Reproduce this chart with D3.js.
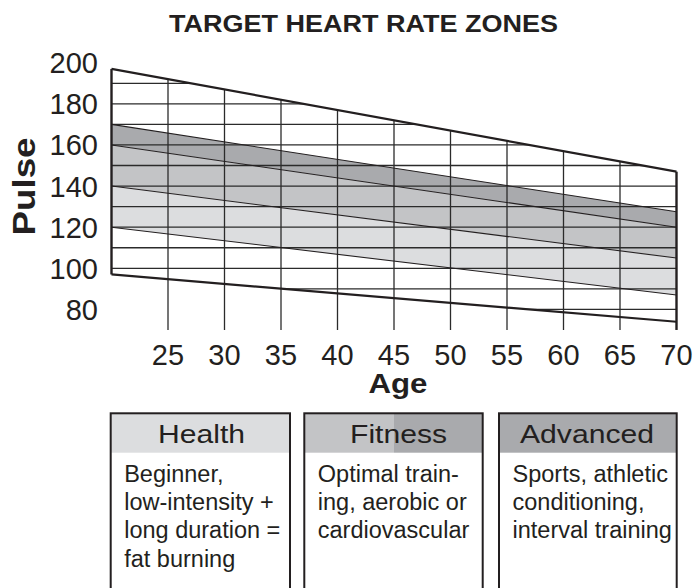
<!DOCTYPE html>
<html>
<head>
<meta charset="utf-8">
<script src="https://cdn.jsdelivr.net/npm/d3@7"></script>
<style>
  html, body { margin: 0; padding: 0; background: #fff; }
  svg { display: block; }
  text { font-family: "Liberation Sans", Arial, Helvetica, sans-serif; fill: #231f20; }
</style>
</head>
<body>
<svg id="chart" width="694" height="588"></svg>
<script>
// ---- data ----
const ages = [20, 70];
const maxPulse      = [197, 147];   // upper boundary of the chart
const advancedTop   = [170, 127.5]; // top of dark band
const fitnessTop    = [160, 120];   // dark / medium boundary
const healthTop     = [140, 105];   // medium / light boundary
const healthBottom  = [120, 87];    // bottom of light band
const minPulse      = [97, 74];     // lower boundary of the chart

const xTickValues = [25, 30, 35, 40, 45, 50, 55, 60, 65, 70];
const yTickValues = [80, 100, 120, 140, 160, 180, 200];
const gridPulse   = [80, 90, 100, 110, 120, 130, 140, 150, 160, 170, 180, 190];
const gridAges    = [25, 30, 35, 40, 45, 50, 55, 60, 65];

const zoneNames = ["Health", "Fitness", "Advanced"];
const zoneDescriptions = [
  ["Beginner,", "low-intensity +", "long duration =", "fat burning"],
  ["Optimal train-", "ing, aerobic or", "cardiovascular"],
  ["Sports, athletic", "conditioning,", "interval training"]
];

const titleText = "TARGET HEART RATE ZONES";
const xLabel = "Age";
const yLabel = "Pulse";

// ---- styling ----
const ink = "#231f20";
const colLight = "#dcdddf", colMid = "#c3c4c6", colDark = "#a9aaad";

const svg = d3.select("#chart");
const x = d3.scaleLinear().domain([20, 70]).range([111.5, 676.5]);
const y = d3.scaleLinear().domain([100, 190]).range([268.3, 83.3]);

const pts = arr => ages.map((a, i) => [x(a), y(arr[i])]);
const line = d3.line();

// band polygons
function band(topArr, botArr, fill) {
  const poly = pts(topArr).concat(pts(botArr).reverse());
  svg.append("path").attr("d", line(poly) + "Z").attr("fill", fill).attr("stroke", "none");
}
band(advancedTop, fitnessTop, colDark);
band(fitnessTop, healthTop, colMid);
band(healthTop, healthBottom, colLight);

// clip for horizontal grid (chart quadrilateral)
const defs = svg.append("defs");
const quad = pts(maxPulse).concat(pts(minPulse).reverse());
defs.append("clipPath").attr("id", "quadClip")
  .append("path").attr("d", line(quad) + "Z");
// clip for vertical grid: below top boundary down to pulse 70
const vpoly = pts(maxPulse).concat([[x(70), y(70)], [x(20), y(70)]]);
defs.append("clipPath").attr("id", "vClip")
  .append("path").attr("d", line(vpoly) + "Z");

// horizontal grid
svg.append("g").attr("clip-path", "url(#quadClip)")
  .selectAll("line").data(gridPulse).join("line")
  .attr("x1", x(20)).attr("x2", x(70))
  .attr("y1", d => y(d)).attr("y2", d => y(d))
  .attr("stroke", "#2b2b2b").attr("stroke-width", 1.3);

// vertical grid
svg.append("g").attr("clip-path", "url(#vClip)")
  .selectAll("line").data(gridAges).join("line")
  .attr("x1", d => x(d)).attr("x2", d => x(d))
  .attr("y1", y(210)).attr("y2", y(70))
  .attr("stroke", "#2b2b2b").attr("stroke-width", 1.3);

// zone lines
[advancedTop, fitnessTop, healthTop, healthBottom].forEach(arr => {
  svg.append("path").attr("d", line(pts(arr))).attr("fill", "none")
    .attr("stroke", ink).attr("stroke-width", 1.1);
});

// boundaries
svg.append("path").attr("d", line(pts(maxPulse))).attr("fill", "none")
  .attr("stroke", ink).attr("stroke-width", 2.2);
svg.append("path").attr("d", line(pts(minPulse))).attr("fill", "none")
  .attr("stroke", ink).attr("stroke-width", 2.2);
// left edge
svg.append("line").attr("x1", x(20)).attr("x2", x(20))
  .attr("y1", y(maxPulse[0])).attr("y2", y(minPulse[0]))
  .attr("stroke", ink).attr("stroke-width", 2.4);
// right edge (extends below like the tick lines)
svg.append("line").attr("x1", x(70)).attr("x2", x(70))
  .attr("y1", y(maxPulse[1])).attr("y2", y(70))
  .attr("stroke", ink).attr("stroke-width", 2.4);

// tick labels
svg.append("g").selectAll("text").data(yTickValues).join("text")
  .attr("x", 98).attr("y", d => y(d) + 10.5)
  .attr("text-anchor", "end").attr("font-size", 29)
  .text(d => d);

svg.append("g").selectAll("text").data(xTickValues).join("text")
  .attr("x", d => x(d)).attr("y", 365)
  .attr("text-anchor", "middle").attr("font-size", 29)
  .text(d => d);

// title & axis labels
svg.append("text").attr("x", 363.5).attr("y", 31.7)
  .attr("text-anchor", "middle").attr("font-size", 23.5).attr("font-weight", "bold")
  .attr("textLength", 389).attr("lengthAdjust", "spacingAndGlyphs")
  .text(titleText);

svg.append("text").attr("x", 398).attr("y", 392.5)
  .attr("text-anchor", "middle").attr("font-size", 27).attr("font-weight", "bold")
  .attr("textLength", 59).attr("lengthAdjust", "spacingAndGlyphs")
  .text(xLabel);

svg.append("text").attr("transform", "translate(35,186.5) rotate(-90)")
  .attr("text-anchor", "middle").attr("font-size", 30.5).attr("font-weight", "bold")
  .attr("textLength", 98).attr("lengthAdjust", "spacingAndGlyphs")
  .text(yLabel);

// legend boxes
const boxX = [[110.7, 290], [304.3, 482.7], [499, 676.7]];
const boxTop = 413.3, headBottom = 452.7;
const headerCenters = [201.5, 398.5, 587];
const headerLengths = [87, 97, 134];

zoneNames.forEach((name, i) => {
  const [l, r] = boxX[i];
  const g = svg.append("g");
  g.append("rect").attr("x", l).attr("y", boxTop).attr("width", r - l).attr("height", 200)
    .attr("fill", "#fff");
  if (i === 0) {
    g.append("rect").attr("x", l).attr("y", boxTop).attr("width", r - l).attr("height", headBottom - boxTop).attr("fill", colLight);
  } else if (i === 1) {
    g.append("rect").attr("x", l).attr("y", boxTop).attr("width", 394 - l).attr("height", headBottom - boxTop).attr("fill", colMid);
    g.append("rect").attr("x", 394).attr("y", boxTop).attr("width", r - 394).attr("height", headBottom - boxTop).attr("fill", colDark);
  } else {
    g.append("rect").attr("x", l).attr("y", boxTop).attr("width", r - l).attr("height", headBottom - boxTop).attr("fill", colDark);
  }
  g.append("rect").attr("x", l).attr("y", boxTop).attr("width", r - l).attr("height", 200)
    .attr("fill", "none").attr("stroke", ink).attr("stroke-width", 2);
  g.append("text").attr("x", headerCenters[i]).attr("y", 443.3)
    .attr("text-anchor", "middle").attr("font-size", 26.5)
    .attr("textLength", headerLengths[i]).attr("lengthAdjust", "spacingAndGlyphs")
    .text(name);
  g.selectAll("text.desc").data(zoneDescriptions[i]).join("text")
    .attr("class", "desc")
    .attr("x", l + 13.5).attr("y", (d, k) => 481.7 + k * 28.35)
    .attr("font-size", 23.5)
    .text(d => d);
});
</script>
</body>
</html>
